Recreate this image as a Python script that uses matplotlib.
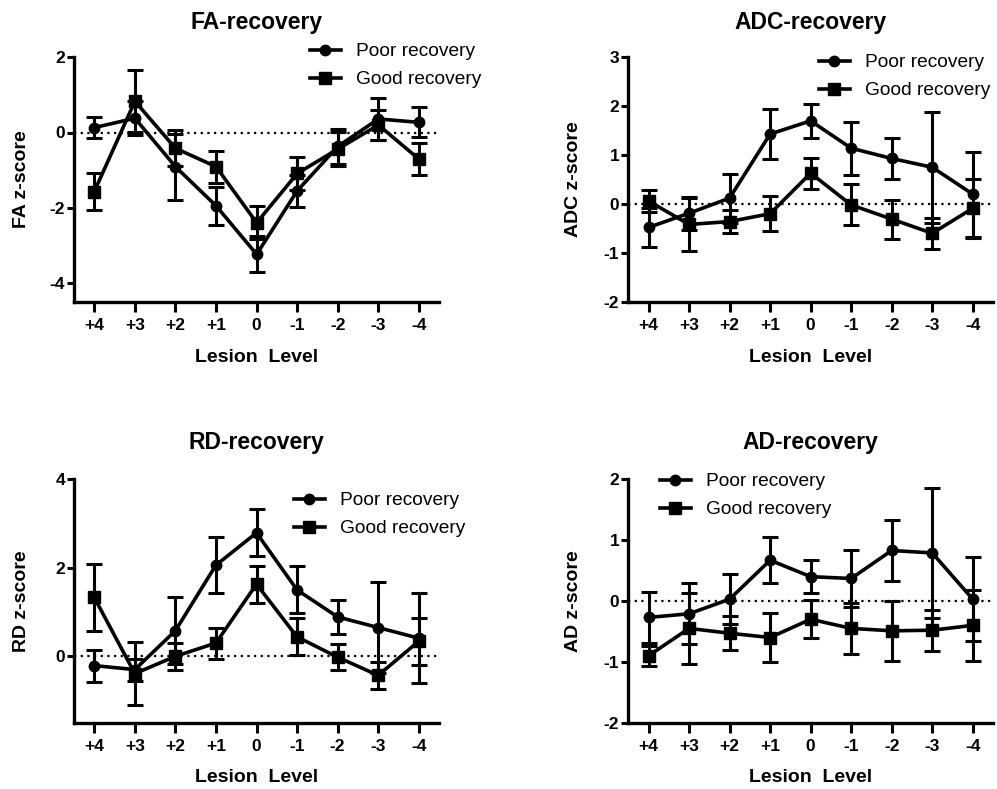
import matplotlib
matplotlib.use("Agg")
import matplotlib.pyplot as plt
from matplotlib.lines import Line2D
import numpy as np

plt.rcParams['font.family'] = ['Liberation Sans', 'DejaVu Sans']
plt.rcParams['axes.unicode_minus'] = False

levels = ["+4", "+3", "+2", "+1", "0", "-1", "-2", "-3", "-4"]
series_names = ["Poor recovery", "Good recovery"]

# FA z-scores (mean, SEM)
fa_poor = [0.13, 0.38, -0.91, -1.95, -3.24, -1.55, -0.37, 0.36, 0.27]
fa_poor_err = [0.27, 0.45, 0.88, 0.51, 0.48, 0.43, 0.47, 0.56, 0.40]
fa_good = [-1.57, 0.83, -0.42, -0.91, -2.40, -1.09, -0.44, 0.20, -0.71]
fa_good_err = [0.50, 0.82, 0.48, 0.43, 0.44, 0.45, 0.45, 0.40, 0.43]

# ADC z-scores
adc_poor = [-0.48, -0.19, 0.12, 1.43, 1.70, 1.14, 0.93, 0.75, 0.20]
adc_poor_err = [0.40, 0.34, 0.50, 0.51, 0.35, 0.54, 0.41, 1.13, 0.87]
adc_good = [0.06, -0.42, -0.36, -0.20, 0.63, -0.02, -0.31, -0.60, -0.09]
adc_good_err = [0.22, 0.55, 0.24, 0.36, 0.32, 0.42, 0.40, 0.32, 0.60]

# RD z-scores
rd_poor = [-0.21, -0.30, 0.58, 2.06, 2.79, 1.50, 0.89, 0.65, 0.41]
rd_poor_err = [0.36, 0.25, 0.75, 0.64, 0.53, 0.53, 0.39, 1.02, 1.02]
rd_good = [1.33, -0.39, 0.00, 0.30, 1.63, 0.44, -0.02, -0.43, 0.34]
rd_good_err = [0.76, 0.72, 0.31, 0.35, 0.42, 0.42, 0.30, 0.30, 0.53]

# AD z-scores
ad_poor = [-0.27, -0.21, 0.03, 0.67, 0.40, 0.37, 0.83, 0.79, 0.03]
ad_poor_err = [0.42, 0.50, 0.41, 0.38, 0.27, 0.47, 0.50, 1.07, 0.69]
ad_good = [-0.90, -0.45, -0.53, -0.60, -0.30, -0.45, -0.49, -0.48, -0.40]
ad_good_err = [0.16, 0.58, 0.28, 0.41, 0.31, 0.42, 0.49, 0.34, 0.58]

W, H = 997, 789
fig = plt.figure(figsize=(W / 100, H / 100), dpi=100)


def px_rect(left, right, top, bottom):
    return [left / W, 1 - bottom / H, (right - left) / W, (bottom - top) / H]


panels = [
    dict(title="FA-recovery", ylabel="FA z-score", rect=(74, 439.3, 57.3, 301.7),
         ylim=(-4.5, 2), yticks=[-4, -2, 0, 2],
         poor=(fa_poor, fa_poor_err), good=(fa_good, fa_good_err),
         title_y=23, xlabel_y=358, ylabel_x=30, leg=(310, 43)),
    dict(title="ADC-recovery", ylabel="ADC z-score", rect=(628.3, 993, 57.3, 301.7),
         ylim=(-2, 3), yticks=[-2, -1, 0, 1, 2, 3],
         poor=(adc_poor, adc_poor_err), good=(adc_good, adc_good_err),
         title_y=23, xlabel_y=358, ylabel_x=582, leg=(819, 54)),
    dict(title="RD-recovery", ylabel="RD z-score", rect=(74, 439, 479.3, 722.7),
         ylim=(-1.5, 4), yticks=[0, 2, 4],
         poor=(rd_poor, rd_poor_err), good=(rd_good, rd_good_err),
         title_y=443, xlabel_y=778, ylabel_x=30, leg=(294, 492)),
    dict(title="AD-recovery", ylabel="AD z-score", rect=(628.3, 993, 479.3, 722.7),
         ylim=(-2, 2), yticks=[-2, -1, 0, 1, 2],
         poor=(ad_poor, ad_poor_err), good=(ad_good, ad_good_err),
         title_y=443, xlabel_y=778, ylabel_x=582, leg=(660, 473)),
]

x = np.arange(len(levels))
markers = ("o", "s")
msizes = (7.5, 8.5)

for p in panels:
    left, right, top, bottom = p["rect"]
    ax = fig.add_axes(px_rect(left, right, top, bottom))
    ax.axhline(0, color="black", linestyle=(0, (1, 2)), linewidth=1.6, zorder=1)

    for (vals, errs), marker, ms in zip((p["poor"], p["good"]), markers, msizes):
        ax.errorbar(x, vals, yerr=errs, color="black", linewidth=2.6, marker=marker,
                    markersize=ms, capsize=6, capthick=2.2, elinewidth=2.2, zorder=3)

    ax.set_xlim(-0.5, 8.5)
    ax.set_ylim(*p["ylim"])
    ax.set_yticks(p["yticks"])
    ax.set_xticks(x)
    ax.set_xticklabels(levels)
    for s in ("top", "right"):
        ax.spines[s].set_visible(False)
    for s in ("left", "bottom"):
        ax.spines[s].set_linewidth(2.4)
    ax.tick_params(axis="both", width=2.2, labelsize=12.5, direction="out")
    ax.tick_params(axis="x", length=7, pad=5)
    ax.tick_params(axis="y", length=5, pad=1.5)
    for lab in ax.get_xticklabels() + ax.get_yticklabels():
        lab.set_fontweight("bold")

    ax.set_ylabel(p["ylabel"], fontsize=14, fontweight="bold")
    ax.yaxis.set_label_coords(p["ylabel_x"] / W, 0.5 * ((1 - top / H) + (1 - bottom / H)),
                              transform=fig.transFigure)
    fig.text((left + right) / 2 / W, 1 - p["xlabel_y"] / H, "Lesion  Level",
             ha="center", va="center", fontsize=14, fontweight="bold")
    fig.text((left + right) / 2 / W, 1 - p["title_y"] / H, p["title"],
             ha="center", va="center", fontsize=16.5, fontweight="bold")

    handles = [Line2D([], [], color="black", linewidth=2.6, marker=m, markersize=ms)
               for m, ms in zip(markers, msizes)]
    lx, ly = p["leg"]
    ax.legend(handles, series_names, loc="upper left", bbox_to_anchor=(lx / W, 1 - ly / H),
              bbox_transform=fig.transFigure, frameon=False, fontsize=13.8,
              handlelength=1.6, handletextpad=0.8, labelspacing=0.55,
              borderpad=0, borderaxespad=0)

fig.savefig("out.png", dpi=100)
